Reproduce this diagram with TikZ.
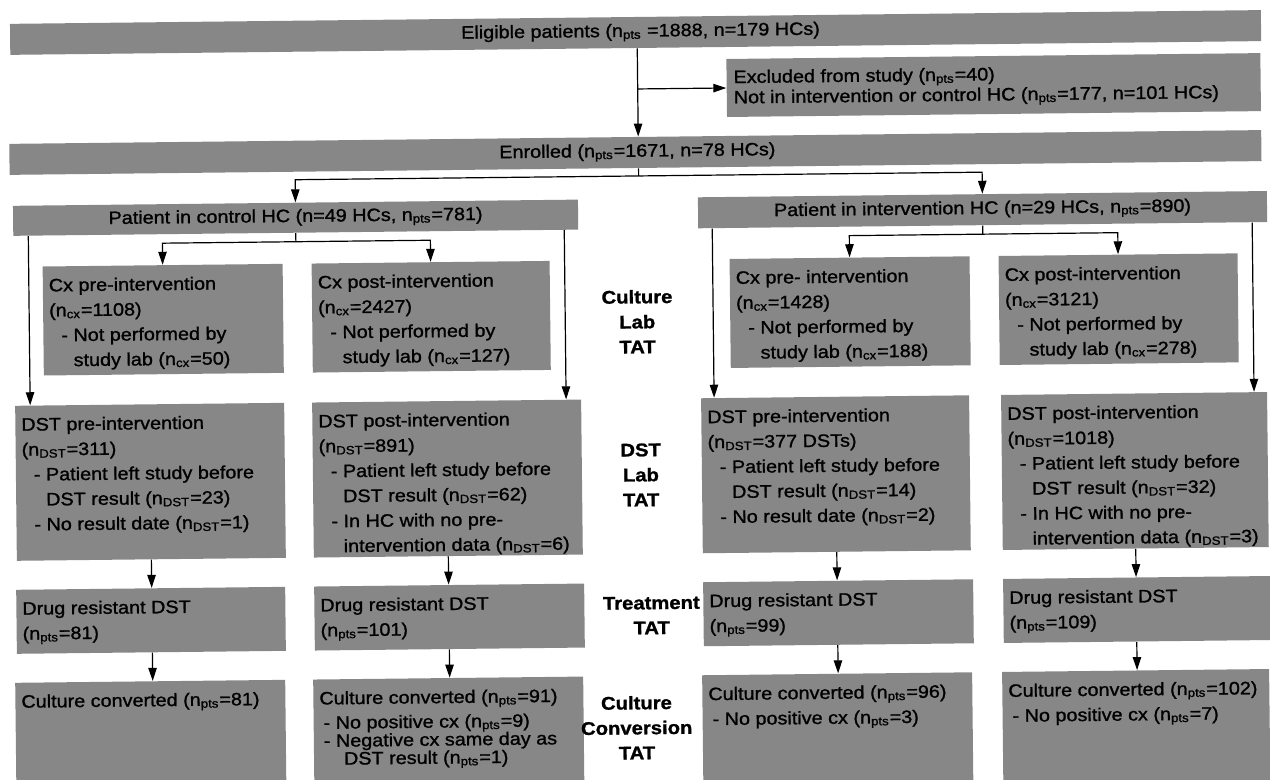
\documentclass[tikz,border=0pt]{standalone}
\usepackage{fontspec}
\setmainfont{Liberation Sans}[FakeStretch=1.1,FakeBold=1.2]
\usetikzlibrary{arrows.meta,fit}
\newcommand{\nsub}[1]{n\textsubscript{#1}}
\newcommand{\dashitem}{\hspace*{6pt}- }
\newcommand{\contline}{\hspace*{12pt}}
\begin{document}
\begin{tikzpicture}[x=0.5pt,y=-0.5pt,
  box/.style={fill=black!47, draw=none, inner sep=0pt},
  boxtext/.style={anchor=north west, inner sep=0pt, align=left,
    font=\fontsize{9pt}{12.5pt}\selectfont},
  tighttext/.style={boxtext, font=\fontsize{9pt}{8.75pt}\selectfont},
  midtext/.style={boxtext, font=\fontsize{9pt}{9pt}\selectfont},
  head/.style={inner sep=0pt, font=\fontsize{9pt}{12.5pt}\selectfont},
  side/.style={anchor=north, inner sep=0pt, align=center,
    font=\fontsize{9.2pt}{12.5pt}\selectfont\bfseries},
  wire/.style={draw=black, line width=0.6pt},
  conn/.style={wire, -{Triangle[length=6.5pt,width=4.2pt]}}]
\useasboundingbox (0,0) rectangle (1270,780);
\begin{scope}[transform canvas={rotate around={0.63:(635,390)}}]
% ---------- boxes ----------
\node[box, fit={(14,17) (1265,48)}] (elig) {};
\node[box, fit={(730,60) (1264,118)}] (excl) {};
\node[box, fit={(12,137) (1264,168)}] (enr) {};
\node[box, fit={(15,199) (580,229)}] (ctrl) {};
\node[box, fit={(700,198) (1269,229)}] (intv) {};
\node[box, fit={(44,260) (284,369)}] (cxC1) {};
\node[box, fit={(313,260) (551,369)}] (cxC2) {};
\node[box, fit={(731,260) (971,369)}] (cxI1) {};
\node[box, fit={(1000,260) (1239,369)}] (cxI2) {};
\node[box, fit={(15,399) (284,554)}] (dstC1) {};
\node[box, fit={(312,399) (581,554)}] (dstC2) {};
\node[box, fit={(701,399) (969,554)}] (dstI1) {};
\node[box, fit={(1001,399) (1267,554)}] (dstI2) {};
\node[box, fit={(14,583) (283,647)}] (drC1) {};
\node[box, fit={(312,583) (582,647)}] (drC2) {};
\node[box, fit={(701,583) (971,647)}] (drI1) {};
\node[box, fit={(1001,583) (1268,647)}] (drI2) {};
\node[box, fit={(12,676) (282,790)}] (ccC1) {};
\node[box, fit={(310,676) (580,790)}] (ccC2) {};
\node[box, fit={(699,676) (969,790)}] (ccI1) {};
\node[box, fit={(999,676) (1266,790)}] (ccI2) {};

% ---------- single-line headers ----------
\node[head] (eligt) at ([xshift=2.5pt]elig.center) {Eligible patients (\nsub{pts} =1888, n=179 HCs)};
\node[head] (enrt) at ([xshift=1pt]enr.center) {Enrolled (\nsub{pts}=1671, n=78 HCs)};
\node[head] (ctrlt) at (ctrl.center) {Patient in control HC (n=49 HCs, \nsub{pts}=781)};
\node[head] (intvt) at (intv.center) {Patient in intervention HC (n=29 HCs, \nsub{pts}=890)};
\node[tighttext] (exclt) at ([shift={(7,11.2)}]excl.north west)
  {\strut Excluded from study (\nsub{pts}=40)\\
   Not in intervention or control HC (\nsub{pts}=177, n=101 HCs)};

% ---------- culture lab row ----------
\node[boxtext] (cxC1t) at ([shift={(6,7.5)}]cxC1.north west)
  {\strut Cx pre-intervention\\(\nsub{cx}=1108)\\\dashitem Not performed by\\\contline study lab (\nsub{cx}=50)};
\node[boxtext] (cxC2t) at ([shift={(6,7.5)}]cxC2.north west)
  {\strut Cx post-intervention\\(\nsub{cx}=2427)\\\dashitem Not performed by\\\contline study lab (\nsub{cx}=127)};
\node[boxtext] (cxI1t) at ([shift={(6,7.5)}]cxI1.north west)
  {\strut Cx pre- intervention\\(\nsub{cx}=1428)\\\dashitem Not performed by\\\contline study lab (\nsub{cx}=188)};
\node[boxtext] (cxI2t) at ([shift={(6,7.5)}]cxI2.north west)
  {\strut Cx post-intervention\\(\nsub{cx}=3121)\\\dashitem Not performed by\\\contline study lab (\nsub{cx}=278)};

% ---------- DST lab row ----------
\node[boxtext] (dstC1t) at ([shift={(6,7.5)}]dstC1.north west)
  {\strut DST pre-intervention\\(\nsub{DST}=311)\\\dashitem Patient left study before\\\contline DST result (\nsub{DST}=23)\\\dashitem No result date (\nsub{DST}=1)};
\node[boxtext] (dstC2t) at ([shift={(6,7.5)}]dstC2.north west)
  {\strut DST post-intervention\\(\nsub{DST}=891)\\\dashitem Patient left study before\\\contline DST result (\nsub{DST}=62)\\\dashitem In HC with no pre-\\\contline intervention data (\nsub{DST}=6)};
\node[boxtext] (dstI1t) at ([shift={(6,7.5)}]dstI1.north west)
  {\strut DST pre-intervention\\(\nsub{DST}=377 DSTs)\\\dashitem Patient left study before\\\contline DST result (\nsub{DST}=14)\\\dashitem No result date (\nsub{DST}=2)};
\node[boxtext] (dstI2t) at ([shift={(6,7.5)}]dstI2.north west)
  {\strut DST post-intervention\\(\nsub{DST}=1018)\\\dashitem Patient left study before\\\contline DST result (\nsub{DST}=32)\\\dashitem In HC with no pre-\\\contline intervention data (\nsub{DST}=3)};

% ---------- treatment row ----------
\node[boxtext] (drC1t) at ([shift={(6,7.5)}]drC1.north west) {\strut Drug resistant DST\\(\nsub{pts}=81)};
\node[boxtext] (drC2t) at ([shift={(6,7.5)}]drC2.north west) {\strut Drug resistant DST\\(\nsub{pts}=101)};
\node[boxtext] (drI1t) at ([shift={(6,7.5)}]drI1.north west) {\strut Drug resistant DST\\(\nsub{pts}=99)};
\node[boxtext] (drI2t) at ([shift={(6,7.5)}]drI2.north west) {\strut Drug resistant DST\\(\nsub{pts}=109)};

% ---------- culture conversion row ----------
\node[boxtext] (ccC1t) at ([shift={(6,7.5)}]ccC1.north west) {\strut Culture converted (\nsub{pts}=81)};
\node[midtext] (ccC2t) at ([shift={(6,12)}]ccC2.north west)
  {\strut Culture converted (\nsub{pts}=91)\\[2pt]\hspace*{2pt}- No positive cx (\nsub{pts}=9)\\\hspace*{2pt}- Negative cx same day as\\\contline DST result (\nsub{pts}=1)};
\node[boxtext] (ccI1t) at ([shift={(6,7.5)}]ccI1.north west)
  {\strut Culture converted (\nsub{pts}=96)\\\hspace*{2pt}- No positive cx (\nsub{pts}=3)};
\node[boxtext] (ccI2t) at ([shift={(6,7.5)}]ccI2.north west)
  {\strut Culture converted (\nsub{pts}=102)\\\hspace*{2pt}- No positive cx (\nsub{pts}=7)};

% ---------- stage labels ----------
\node[side] (lab1) at (638,285.5) {\strut Culture\\Lab\\TAT};
\node[side] (lab2) at (640,438.5) {\strut DST\\Lab\\TAT};
\node[side] (lab3) at (649,591.5) {\strut Treatment\\TAT};
\node[side] (lab4) at (633,691.5) {\strut Culture\\Conversion\\TAT};

% ---------- connectors ----------
\coordinate (mainx) at (641,0);
\coordinate (split1) at (0,176);
\coordinate (split2) at (0,238);
\coordinate (sC1) at (30,0);
\coordinate (sC2) at (566,0);
\coordinate (sI1) at (714,0);
\coordinate (sI2) at (1254,0);

\draw[conn] (elig.south -| mainx) -- (enr.north -| mainx);
\draw[conn] (mainx |- excl.west) -- (excl.west);
\draw[wire] (enr.south -| mainx) -- (mainx |- split1);
\draw[conn] (mainx |- split1) -| (ctrl.north);
\draw[conn] (mainx |- split1) -| (intv.north);

\draw[wire] (ctrl.south) -- (ctrl.south |- split2);
\draw[conn] (ctrl.south |- split2) -| (cxC1.north);
\draw[conn] (ctrl.south |- split2) -| (cxC2.north);
\draw[wire] (intv.south) -- (intv.south |- split2);
\draw[conn] (intv.south |- split2) -| (cxI1.north);
\draw[conn] (intv.south |- split2) -| (cxI2.north);

\draw[conn] (ctrl.south -| sC1) -- (dstC1.north -| sC1);
\draw[conn] (ctrl.south -| sC2) -- (dstC2.north -| sC2);
\draw[conn] (intv.south -| sI1) -- (dstI1.north -| sI1);
\draw[conn] (intv.south -| sI2) -- (dstI2.north -| sI2);

\draw[conn] (dstC1.south) -- (dstC1.south |- drC1.north);
\draw[conn] (dstC2.south) -- (dstC2.south |- drC2.north);
\draw[conn] (dstI1.south) -- (dstI1.south |- drI1.north);
\draw[conn] (dstI2.south) -- (dstI2.south |- drI2.north);
\draw[conn] (dstC1.south |- drC1.south) -- (dstC1.south |- ccC1.north);
\draw[conn] (dstC2.south |- drC2.south) -- (dstC2.south |- ccC2.north);
\draw[conn] (dstI1.south |- drI1.south) -- (dstI1.south |- ccI1.north);
\draw[conn] (dstI2.south |- drI2.south) -- (dstI2.south |- ccI2.north);
\end{scope}
\end{tikzpicture}
\end{document}
